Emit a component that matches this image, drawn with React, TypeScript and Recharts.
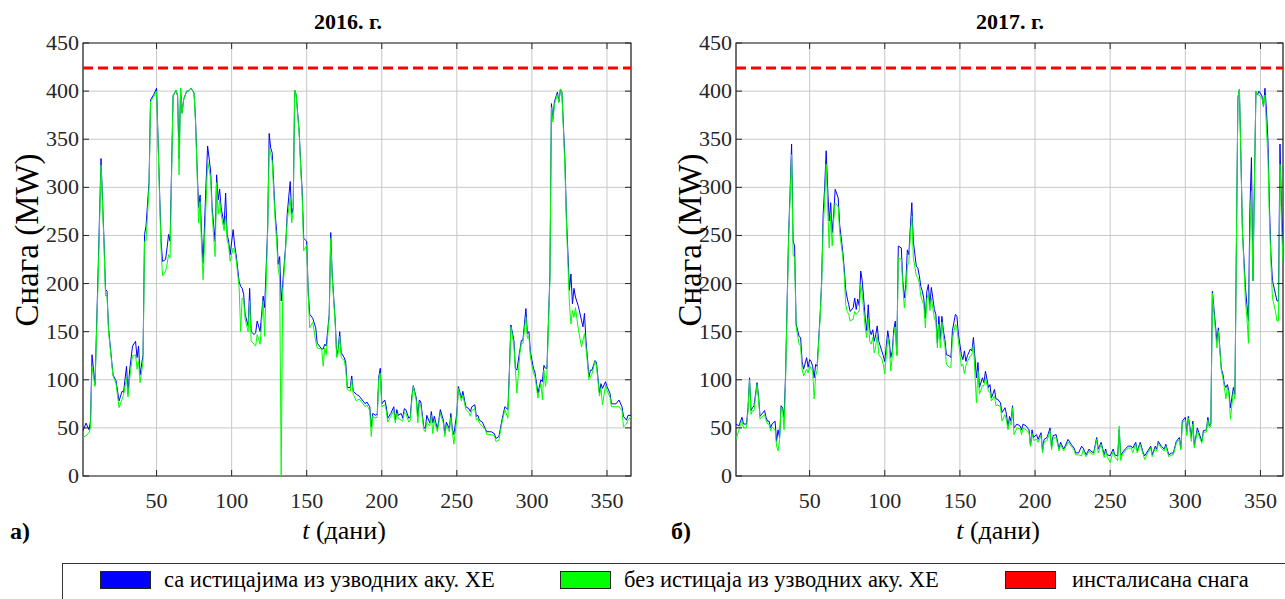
import React from 'react';
import {
  CartesianGrid,
  Line,
  LineChart,
  ReferenceArea,
  ReferenceLine,
  XAxis,
  YAxis,
} from 'recharts';

// Daily HPP output for 2016 and 2017, with and without upstream reservoir releases.
// Values at the listed days.

const FONT = '"Liberation Serif", "Times New Roman", serif';
const INK = '#262626';

const INSTALLED_MW = 424;
const X_TICKS = [50, 100, 150, 200, 250, 300, 350];
const Y_TICKS = [0, 50, 100, 150, 200, 250, 300, 350, 400, 450];

const DAYS_2016 = [
  1, 3, 5, 6, 7, 9, 11, 13, 15, 16,
  17, 18, 21, 23, 25, 27, 28, 30, 31, 32,
  34, 36, 37, 38, 39, 41, 42, 43, 45, 46,
  48, 50, 52, 53, 54, 56, 57, 58, 59, 61,
  63, 64, 65, 66, 67, 68, 70, 71, 73, 75,
  76, 77, 78, 79, 80, 81, 83, 84, 86, 87,
  89, 90, 91, 92, 93, 95, 96, 97, 98, 99,
  101, 102, 103, 105, 106, 107, 108, 109, 111, 112,
  113, 115, 116, 117, 119, 121, 122, 124, 125, 126,
  127, 129, 130, 131, 132, 133, 134, 136, 137, 139,
  140, 141, 142, 143, 145, 146, 147, 148, 150, 151,
  152, 154, 156, 157, 160, 161, 162, 163, 165, 166,
  167, 169, 170, 171, 172, 173, 175, 176, 177, 179,
  180, 181, 183, 185, 187, 189, 190, 192, 193, 194,
  196, 197, 198, 199, 200, 202, 203, 204, 206, 208,
  209, 210, 211, 213, 214, 215, 216, 218, 219, 220,
  221, 223, 224, 225, 226, 228, 229, 230, 232, 233,
  234, 235, 237, 238, 239, 241, 242, 243, 245, 246,
  247, 248, 250, 251, 253, 254, 256, 258, 259, 260,
  262, 263, 264, 265, 267, 269, 270, 273, 275, 276,
  278, 279, 280, 282, 284, 285, 286, 288, 289, 290,
  292, 293, 294, 296, 297, 298, 299, 301, 302, 304,
  306, 307, 308, 309, 310, 312, 313, 314, 315, 317,
  318, 319, 320, 322, 323, 325, 326, 327, 328, 329,
  331, 333, 334, 335, 336, 338, 339, 340, 342, 343,
  345, 346, 347, 349, 350, 352, 353, 355, 356, 358,
  360, 361, 363, 364, 366,
];
const WITH_2016 = [
  47, 55, 48, 57, 126, 95, 209, 330, 244, 194,
  192, 154, 105, 99, 78, 88, 87, 114, 85, 109,
  135, 140, 123, 135, 105, 126, 251, 260, 306, 391,
  396, 403, 296, 244, 223, 225, 237, 251, 244, 395,
  401, 395, 330, 403, 377, 391, 400, 400, 403, 398,
  369, 320, 279, 292, 251, 221, 306, 343, 317, 279,
  244, 313, 287, 298, 279, 261, 294, 251, 244, 230,
  256, 240, 230, 202, 197, 195, 189, 168, 156, 195,
  150, 147, 149, 161, 150, 187, 175, 258, 356, 341,
  336, 272, 254, 220, 228, 182, 199, 240, 272, 306,
  272, 279, 401, 396, 358, 324, 296, 247, 244, 192,
  168, 164, 154, 138, 132, 132, 137, 135, 168, 253,
  209, 161, 125, 132, 150, 128, 123, 118, 92, 92,
  104, 88, 85, 83, 79, 75, 77, 72, 51, 65,
  63, 65, 103, 112, 75, 79, 72, 60, 65, 72,
  58, 69, 63, 65, 60, 70, 69, 60, 62, 82,
  94, 81, 62, 79, 77, 51, 49, 63, 55, 67,
  55, 62, 49, 58, 69, 58, 44, 56, 49, 65,
  49, 43, 65, 93, 81, 88, 72, 70, 67, 72,
  74, 62, 63, 58, 56, 49, 46, 46, 44, 39,
  41, 49, 58, 72, 69, 110, 157, 141, 112, 110,
  131, 141, 141, 174, 148, 150, 129, 112, 108, 86,
  100, 98, 115, 112, 112, 210, 387, 371, 389, 399,
  389, 402, 399, 328, 269, 193, 210, 179, 195, 186,
  176, 162, 155, 169, 141, 103, 110, 110, 120, 118,
  86, 96, 91, 98, 93, 86, 75, 75, 75, 79,
  72, 62, 58, 63, 63,
];
const WITHOUT_2016 = [
  40, 42, 45, 50, 114, 93, 200, 323, 240, 187,
  188, 150, 104, 96, 71, 80, 84, 102, 82, 100,
  125, 126, 111, 119, 97, 119, 244, 244, 300, 389,
  394, 400, 290, 235, 208, 213, 220, 230, 227, 396,
  401, 395, 313, 403, 377, 391, 400, 400, 403, 398,
  365, 315, 263, 285, 237, 204, 285, 327, 310, 272,
  228, 305, 272, 287, 272, 255, 270, 245, 240, 223,
  237, 234, 225, 196, 150, 185, 183, 163, 150, 182,
  140, 137, 135, 147, 137, 182, 145, 254, 341, 335,
  327, 265, 244, 215, 206, 0, 190, 237, 265, 289,
  263, 275, 401, 396, 355, 320, 290, 234, 240, 188,
  154, 160, 140, 133, 132, 114, 133, 126, 165, 247,
  205, 158, 123, 128, 145, 123, 120, 111, 90, 88,
  100, 85, 78, 80, 76, 72, 74, 68, 41, 62,
  60, 62, 100, 107, 72, 74, 68, 56, 62, 68,
  55, 65, 60, 58, 57, 66, 65, 56, 58, 78,
  93, 78, 55, 75, 73, 48, 46, 56, 52, 63,
  44, 58, 46, 55, 65, 55, 41, 53, 46, 61,
  46, 33, 60, 91, 78, 84, 69, 66, 62, 68,
  70, 58, 60, 55, 52, 48, 43, 43, 42, 36,
  37, 46, 55, 69, 60, 105, 155, 136, 110, 86,
  128, 138, 138, 165, 143, 145, 124, 107, 104, 81,
  96, 79, 110, 93, 105, 205, 383, 368, 386, 397,
  388, 402, 398, 320, 262, 179, 158, 172, 165, 175,
  152, 134, 141, 148, 134, 100, 103, 106, 119, 115,
  83, 91, 74, 94, 89, 82, 72, 72, 72, 72,
  68, 51, 54, 58, 62,
];

const DAYS_2017 = [
  1, 3, 4, 5, 6, 8, 9, 10, 11, 12,
  13, 15, 16, 17, 18, 20, 21, 22, 23, 24,
  25, 27, 28, 29, 30, 31, 32, 33, 34, 36,
  37, 38, 39, 40, 41, 43, 44, 45, 46, 48,
  49, 50, 51, 52, 53, 54, 55, 57, 58, 59,
  60, 61, 62, 63, 64, 65, 66, 67, 69, 70,
  72, 73, 74, 75, 76, 77, 79, 80, 81, 82,
  83, 84, 85, 87, 88, 89, 90, 91, 92, 93,
  94, 95, 96, 98, 99, 100, 102, 103, 104, 105,
  106, 107, 108, 109, 111, 112, 113, 114, 115, 116,
  117, 118, 119, 121, 122, 123, 124, 125, 126, 127,
  128, 129, 130, 131, 133, 134, 135, 136, 137, 138,
  139, 140, 141, 143, 144, 145, 147, 148, 149, 151,
  152, 153, 154, 155, 157, 158, 159, 161, 162, 163,
  165, 166, 167, 169, 170, 171, 173, 174, 175, 177,
  178, 180, 181, 182, 183, 184, 185, 186, 188, 190,
  191, 192, 194, 196, 197, 198, 199, 201, 202, 204,
  205, 206, 208, 210, 211, 212, 214, 216, 217, 219,
  220, 222, 224, 226, 227, 229, 231, 232, 234, 236,
  237, 239, 241, 242, 244, 246, 247, 248, 250, 252,
  253, 255, 256, 257, 258, 260, 262, 264, 265, 267,
  268, 270, 272, 273, 275, 277, 278, 280, 281, 282,
  284, 286, 287, 289, 291, 292, 294, 296, 297, 298,
  300, 301, 302, 304, 305, 306, 308, 309, 311, 312,
  314, 315, 316, 317, 318, 319, 321, 322, 324, 325,
  326, 327, 328, 329, 330, 332, 333, 334, 335, 336,
  337, 338, 340, 341, 342, 343, 344, 345, 346, 347,
  348, 349, 351, 352, 353, 354, 355, 356, 357, 358,
  360, 361, 362, 363, 364, 365,
];
const WITH_2017 = [
  54, 52, 57, 61, 54, 54, 71, 102, 68, 71,
  73, 97, 83, 62, 64, 68, 61, 57, 57, 50,
  54, 57, 36, 48, 40, 73, 71, 61, 106, 251,
  296, 345, 244, 239, 158, 145, 144, 119, 111, 123,
  113, 121, 119, 114, 102, 116, 114, 168, 203, 272,
  300, 338, 300, 265, 284, 253, 272, 298, 289, 261,
  234, 216, 194, 185, 178, 171, 175, 185, 173, 184,
  177, 213, 203, 164, 151, 178, 152, 147, 152, 140,
  147, 156, 140, 130, 125, 119, 151, 140, 123, 130,
  152, 161, 126, 239, 237, 203, 185, 199, 235, 230,
  258, 284, 244, 218, 216, 208, 197, 192, 184, 164,
  192, 199, 178, 196, 173, 168, 138, 166, 142, 166,
  151, 142, 126, 125, 123, 151, 168, 166, 147, 126,
  121, 130, 119, 125, 132, 130, 144, 102, 118, 92,
  102, 97, 109, 92, 95, 81, 90, 80, 80, 76,
  66, 71, 64, 50, 62, 57, 73, 50, 54, 52,
  48, 54, 52, 48, 31, 48, 40, 43, 38, 45,
  26, 38, 40, 50, 29, 42, 43, 28, 35, 28,
  31, 38, 33, 29, 24, 24, 31, 29, 22, 28,
  26, 24, 40, 28, 35, 22, 28, 22, 21, 28,
  22, 21, 48, 21, 24, 28, 31, 31, 29, 35,
  26, 35, 24, 21, 26, 31, 22, 31, 28, 36,
  31, 28, 33, 22, 24, 24, 36, 40, 29, 57,
  61, 45, 62, 40, 57, 31, 50, 45, 36, 47,
  48, 61, 52, 54, 192, 175, 140, 154, 111, 106,
  95, 92, 95, 88, 71, 92, 85, 244, 393, 402,
  331, 255, 196, 178, 161, 279, 331, 203, 306, 400,
  396, 400, 395, 384, 403, 380, 348, 279, 230, 203,
  189, 182, 182, 345, 279, 241,
];
const WITHOUT_2017 = [
  38, 48, 54, 57, 50, 50, 68, 100, 64, 68,
  68, 95, 80, 59, 61, 64, 58, 54, 54, 47,
  51, 48, 31, 26, 38, 71, 69, 48, 100, 245,
  290, 334, 230, 227, 155, 137, 135, 111, 104, 111,
  107, 115, 111, 110, 80, 104, 110, 165, 200, 258,
  286, 324, 279, 237, 272, 239, 265, 284, 280, 253,
  228, 210, 178, 171, 168, 161, 163, 171, 168, 170,
  172, 199, 189, 154, 144, 164, 140, 137, 144, 128,
  135, 147, 126, 122, 116, 106, 144, 135, 109, 125,
  147, 155, 125, 227, 225, 198, 175, 189, 218, 222,
  250, 270, 227, 208, 206, 200, 187, 182, 178, 154,
  184, 189, 172, 185, 164, 160, 133, 158, 133, 160,
  144, 136, 116, 113, 113, 142, 158, 154, 140, 114,
  116, 106, 115, 119, 125, 126, 137, 76, 109, 85,
  94, 94, 102, 88, 87, 78, 83, 73, 74, 72,
  57, 64, 58, 48, 58, 53, 71, 43, 50, 49,
  43, 50, 48, 45, 31, 44, 37, 38, 35, 42,
  24, 35, 37, 47, 27, 39, 40, 26, 33, 26,
  29, 35, 31, 27, 22, 22, 21, 27, 20, 26,
  24, 22, 38, 24, 33, 19, 26, 20, 14, 26,
  20, 16, 52, 16, 22, 26, 29, 29, 24, 33,
  24, 33, 22, 17, 24, 29, 20, 29, 26, 34,
  29, 26, 31, 20, 22, 22, 34, 38, 27, 55,
  58, 42, 60, 36, 54, 29, 47, 42, 34, 45,
  46, 58, 50, 52, 190, 170, 133, 151, 109, 102,
  92, 80, 92, 85, 59, 88, 80, 240, 393, 402,
  331, 255, 182, 164, 138, 250, 296, 203, 306, 400,
  396, 396, 393, 384, 396, 360, 330, 265, 220, 185,
  171, 161, 161, 324, 260, 223,
];

const CHART_H = 520;
const PLOT_TOP = 43;
const PLOT_BOTTOM = 476;
const X_AXIS_H = 40;

function toRows(days: number[], withUp: number[], withoutUp: number[]) {
  return days.map((d, i) => ({ day: d, withUp: withUp[i], withoutUp: withoutUp[i] }));
}

interface PanelProps {
  rows: { day: number; withUp: number; withoutUp: number }[];
  lastDay: number;
  left: number;
  width: number;
  axisW: number;
  padRight: number;
}

function Panel({ rows, lastDay, left, width, axisW, padRight }: PanelProps) {
  const plotLeft = axisW;
  const plotRight = width - padRight;
  const tickText = { fontFamily: FONT, fontSize: 22, fill: INK };

  const xTick = (p: any) => (
    <g>
      <line x1={p.x} x2={p.x} y1={PLOT_BOTTOM} y2={PLOT_BOTTOM - 6} stroke={INK} />
      <line x1={p.x} x2={p.x} y1={PLOT_TOP} y2={PLOT_TOP + 6} stroke={INK} />
      <text x={p.x} y={PLOT_BOTTOM + 32} textAnchor="middle" {...tickText}>
        {p.payload.value}
      </text>
    </g>
  );
  const yTick = (p: any) => (
    <g>
      <line x1={plotLeft} x2={plotLeft + 6} y1={p.y} y2={p.y} stroke={INK} />
      <line x1={plotRight} x2={plotRight - 6} y1={p.y} y2={p.y} stroke={INK} />
      <text x={plotLeft - 4} y={p.y + 7} textAnchor="end" {...tickText}>
        {p.payload.value}
      </text>
    </g>
  );

  return (
    <div style={{ position: 'absolute', left, top: 0 }}>
      <LineChart
        width={width}
        height={CHART_H}
        data={rows}
        margin={{ top: PLOT_TOP, right: padRight, bottom: CHART_H - PLOT_BOTTOM - X_AXIS_H, left: 0 }}
      >
        <CartesianGrid stroke="#c8c8c8" />
        <XAxis
          dataKey="day"
          type="number"
          domain={[1, lastDay]}
          ticks={X_TICKS}
          tick={xTick}
          tickLine={false}
          axisLine={false}
          height={X_AXIS_H}
          allowDataOverflow
        />
        <YAxis
          type="number"
          domain={[0, 450]}
          ticks={Y_TICKS}
          tick={yTick}
          tickLine={false}
          axisLine={false}
          width={axisW}
          allowDataOverflow
        />
        <ReferenceArea x1={1} x2={lastDay} y1={0} y2={450} fill="none" fillOpacity={0} stroke={INK} strokeWidth={1.2} />
        <ReferenceLine y={INSTALLED_MW} stroke="#ff0000" strokeWidth={3} strokeDasharray="10 5" />
        <Line type="linear" dataKey="withUp" stroke="#0000ff" strokeWidth={1} dot={false} isAnimationActive={false} />
        <Line type="linear" dataKey="withoutUp" stroke="#00ff00" strokeWidth={1} dot={false} isAnimationActive={false} />
      </LineChart>
    </div>
  );
}

const abs = (s: React.CSSProperties): React.CSSProperties => ({
  position: 'absolute',
  fontFamily: FONT,
  color: '#000',
  whiteSpace: 'nowrap',
  lineHeight: 1,
  ...s,
});

function Swatch({ left, color }: { left: number; color: string }) {
  return (
    <div
      style={{
        position: 'absolute',
        left,
        top: 571,
        width: 51,
        height: 18,
        background: color,
        border: '1px solid #222',
        boxSizing: 'border-box',
      }}
    />
  );
}

export default function App() {
  const rows2016 = toRows(DAYS_2016, WITH_2016, WITHOUT_2016);
  const rows2017 = toRows(DAYS_2017, WITH_2017, WITHOUT_2017);

  return (
    <div style={{ position: 'absolute', left: 0, top: 0, width: 1285, height: 599, overflow: 'hidden', background: '#fff' }}>
      <Panel rows={rows2016} lastDay={366} left={0} width={640} axisW={83} padRight={9} />
      <Panel rows={rows2017} lastDay={365} left={650} width={635} axisW={86} padRight={2} />

      <div style={abs({ left: 348, top: 11, fontSize: 22, fontWeight: 'bold', transform: 'translateX(-50%)' })}>2016. г.</div>
      <div style={abs({ left: 1010, top: 11, fontSize: 22, fontWeight: 'bold', transform: 'translateX(-50%)' })}>2017. г.</div>

      <div style={abs({ left: 27, top: 240, fontSize: 33, transform: 'translate(-50%, -50%) rotate(-90deg)' })}>Снага (MW)</div>
      <div style={abs({ left: 690, top: 240, fontSize: 33, transform: 'translate(-50%, -50%) rotate(-90deg)' })}>Снага (MW)</div>

      <div style={abs({ left: 344, top: 518, fontSize: 26, transform: 'translateX(-50%)' })}>
        <i>t</i> (дани)
      </div>
      <div style={abs({ left: 998, top: 518, fontSize: 26, transform: 'translateX(-50%)' })}>
        <i>t</i> (дани)
      </div>
      <div style={abs({ left: 10, top: 519, fontSize: 24, fontWeight: 'bold' })}>а)</div>
      <div style={abs({ left: 671, top: 519, fontSize: 24, fontWeight: 'bold' })}>б)</div>

      <div
        style={{
          position: 'absolute',
          left: 62,
          top: 563,
          width: 1240,
          height: 60,
          border: '1px solid #333',
          boxSizing: 'border-box',
        }}
      />
      <Swatch left={100} color="#0000ff" />
      <div style={abs({ left: 164, top: 569, fontSize: 22.5 })}>са истицајима из узводних аку. ХЕ</div>
      <Swatch left={560} color="#00ff00" />
      <div style={abs({ left: 624, top: 569, fontSize: 22.5 })}>без истицаја из узводних аку. ХЕ</div>
      <Swatch left={1005} color="#ff0000" />
      <div style={abs({ left: 1072, top: 569, fontSize: 22.5 })}>инсталисана снага</div>
    </div>
  );
}
